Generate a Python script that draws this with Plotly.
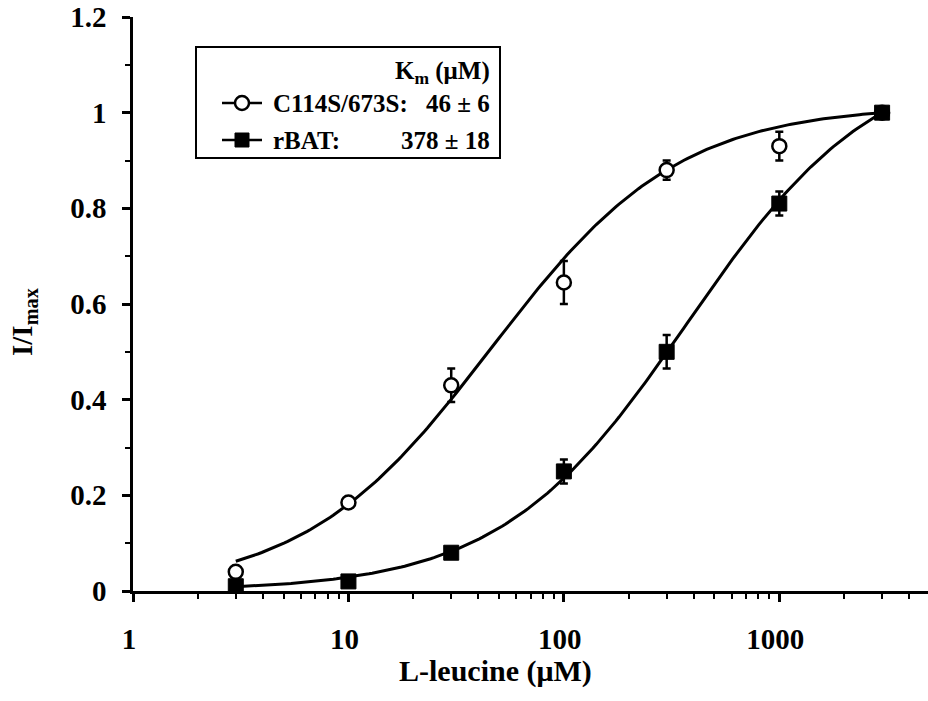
import numpy as np
import plotly.graph_objects as go

# Measured normalised current vs. L-leucine concentration
conc = [3, 10, 30, 100, 300, 1000, 3000]

mut_name = "C114S/673S:"
mut_y = [0.04, 0.185, 0.43, 0.645, 0.88, 0.93, 1.0]
mut_err = [0.0, 0.0, 0.035, 0.045, 0.02, 0.03, 0.0]
mut_km = 46
mut_km_err = 6

wt_name = "rBAT:"
wt_y = [0.01, 0.02, 0.08, 0.25, 0.50, 0.81, 1.0]
wt_err = [0.0, 0.0, 0.0, 0.025, 0.035, 0.025, 0.0]
wt_km = 378
wt_km_err = 18

x_ticks = [1, 10, 100, 1000]
x_ticktext = ["1", "10", "100", "1000"]
y_ticks = [0, 0.2, 0.4, 0.6, 0.8, 1.0, 1.2]
y_ticktext = ["0", "0.2", "0.4", "0.6", "0.8", "1", "1.2"]

FONT = "Liberation Serif"
W, H = 928, 701
L, R, T, B = 133, 0, 17, 110


def mm_curve(km, xs):
    """Michaelis-Menten fit, normalised to the response at the top concentration."""
    xs = np.asarray(xs, dtype=float)
    top = conc[-1] / (km + conc[-1])
    return (xs / (km + xs)) / top


xfit = np.logspace(np.log10(conc[0]), np.log10(conc[-1]), 200)

fig = go.Figure()
fig.add_trace(go.Scatter(x=xfit, y=mm_curve(mut_km, xfit), mode="lines",
                         line=dict(color="black", width=3), hoverinfo="skip"))
fig.add_trace(go.Scatter(x=xfit, y=mm_curve(wt_km, xfit), mode="lines",
                         line=dict(color="black", width=3), hoverinfo="skip"))
fig.add_trace(go.Scatter(
    x=conc, y=mut_y, mode="markers",
    error_y=dict(type="data", array=mut_err, color="black", thickness=2.5, width=4),
    marker=dict(symbol="circle", size=14, color="white",
                line=dict(color="black", width=2.5))))
fig.add_trace(go.Scatter(
    x=conc, y=wt_y, mode="markers",
    error_y=dict(type="data", array=wt_err, color="black", thickness=2.5, width=4),
    marker=dict(symbol="square", size=15, color="black",
                line=dict(color="black", width=1))))

pw = W - L - R
ph = H - T - B


def px(x):
    return (x - L) / pw


def py(y):
    return (H - B - y) / ph


def bold(size):
    return dict(family=FONT, size=size, color="black", weight="bold")


shapes = [dict(type="rect", xref="paper", yref="paper",
               x0=px(196), x1=px(500), y0=py(158), y1=py(47),
               line=dict(color="black", width=2), fillcolor="white", layer="below")]
rows = [(103, "circle", mut_name, f"{mut_km} ± {mut_km_err}"),
        (140, "square", wt_name, f"{wt_km} ± {wt_km_err}")]
annotations = [dict(xref="paper", yref="paper", x=px(492), y=py(72),
                    text="K<sub>m</sub> (μM)", showarrow=False, xanchor="right",
                    yanchor="middle", font=bold(25))]
for yy, sym, name, val in rows:
    shapes.append(dict(type="line", xref="paper", yref="paper",
                       x0=px(222), x1=px(262), y0=py(yy), y1=py(yy),
                       line=dict(color="black", width=2.5)))
    if sym == "circle":
        shapes.append(dict(type="circle", xref="paper", yref="paper",
                           x0=px(235), x1=px(249), y0=py(yy + 7), y1=py(yy - 7),
                           line=dict(color="black", width=2.5), fillcolor="white"))
    else:
        shapes.append(dict(type="rect", xref="paper", yref="paper",
                           x0=px(235), x1=px(249), y0=py(yy + 7), y1=py(yy - 7),
                           line=dict(color="black", width=1), fillcolor="black"))
    annotations.append(dict(xref="paper", yref="paper", x=px(271), y=py(yy),
                            text=name, showarrow=False, xanchor="left", yanchor="middle",
                            font=bold(25)))
    annotations.append(dict(xref="paper", yref="paper", x=px(492), y=py(yy),
                            text=val, showarrow=False, xanchor="right", yanchor="middle",
                            font=bold(25)))

# axis titles
annotations.append(dict(xref="paper", yref="paper", x=px(495), y=py(671),
                        text="L-leucine (μM)", showarrow=False, xanchor="center",
                        yanchor="middle", font=bold(30)))
annotations.append(dict(xref="paper", yref="paper", x=px(24), y=py(322),
                        text="I/I<sub>max</sub>", showarrow=False, textangle=-90,
                        xanchor="center", yanchor="middle", font=bold(29)))

fig.update_layout(
    width=W, height=H,
    margin=dict(l=L, r=R, t=T, b=B, pad=0),
    paper_bgcolor="white", plot_bgcolor="white",
    showlegend=False,
    shapes=shapes, annotations=annotations,
    xaxis=dict(type="log", range=[0, np.log10(4900)],
               tickvals=x_ticks, ticktext=x_ticktext,
               ticks="outside", ticklen=8, tickwidth=2.5, tickcolor="black",
               showline=True, linewidth=2.5, linecolor="black",
               showgrid=False, zeroline=False, tickfont=bold(29),
               ticklabelstandoff=12, ticklabelshift=-4,
               minor=dict(ticks="outside", ticklen=5, tickwidth=2, tickcolor="black",
                          dtick="D1", showgrid=False)),
    yaxis=dict(range=[0, 1.2], tickvals=y_ticks, ticktext=y_ticktext,
               ticks="outside", ticklen=8, tickwidth=2.5, tickcolor="black",
               showline=True, linewidth=2.5, linecolor="black",
               showgrid=False, zeroline=False, tickfont=bold(29),
               ticklabelstandoff=10,
               minor=dict(ticks="outside", ticklen=5, tickwidth=2, tickcolor="black",
                          dtick=0.1, showgrid=False)),
)

fig.write_html("out.html")
